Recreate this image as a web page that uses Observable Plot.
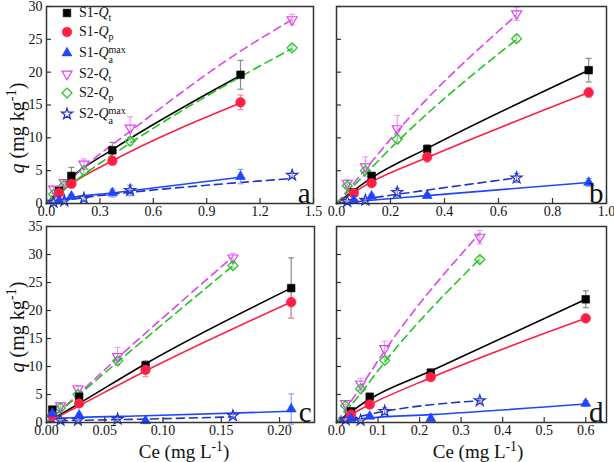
<!DOCTYPE html>
<html><head><meta charset="utf-8">
<script src="https://cdn.jsdelivr.net/npm/d3@7"></script>
<script src="https://cdn.jsdelivr.net/npm/@observablehq/plot@0.6"></script>
<style>
body{margin:0;background:#fff;}
#wrap{position:relative;width:614px;height:462px;overflow:hidden;font-family:'Liberation Serif','Times New Roman',serif;color:#111;background:#fff;}
.ov{position:absolute;white-space:nowrap;}
.ov sub,.ov sup{font-size:0.72em;line-height:0;}
</style></head><body><div id="wrap"></div>
<script>
// ---------- Panel a ----------
const a_x1 = [0.07, 0.14, 0.37, 1.09];
const a_qt1 = [1.9, 4.2, 8.1, 19.6];   const a_qt1E = [0.4, 1.3, 1.2, 2.2];
const a_qp1 = [1.6, 3.0, 6.5, 15.4];   const a_qp1E = [0.3, 0.5, 0.6, 1.1];
const a_qa1 = [0.4, 1.1, 1.6, 4.1];    const a_qa1E = [0.2, 0.3, 0.6, 1.1];
const a_x2 = [0.04, 0.10, 0.21, 0.47, 1.38];
const a_qt2 = [2.2, 3.2, 6.0, 11.5, 28.0]; const a_qt2E = [0.3, 0.4, 0.8, 1.7, 0.8];
const a_qp2 = [1.4, 2.8, 5.0, 9.5, 23.7];  const a_qp2E = [0.2, 0.3, 0.5, 0.6, 0.4];
const a_qa2 = [0.2, 0.4, 0.8, 2.0, 4.3];   const a_qa2E = [0.1, 0.1, 0.3, 0.8, 0.3];
const a_fit1X = [0, 0.14, 0.37, 1.09];
const a_fitT1 = [0, 4.0, 8.2, 19.5];
const a_fitP1 = [0, 3.0, 6.5, 15.3];
const a_fitA1 = [0, 0.9, 1.6, 4.0];
const a_fit2X = [0, 0.21, 0.47, 1.09, 1.38];
const a_fitT2 = [0, 5.5, 11.0, 23.2, 28.0];
const a_fitP2 = [0, 4.4, 9.2, 19.3, 23.6];
const a_fitA2 = [0, 0.9, 1.7, 3.2, 3.8];

// ---------- Panel b ----------
const b_x1 = [0.064, 0.13, 0.336, 0.934];
const b_qt1 = [1.7, 4.2, 8.3, 20.3];   const b_qt1E = [0.3, 0.5, 0.6, 1.8];
const b_qp1 = [1.6, 3.1, 7.1, 16.9];   const b_qp1E = [0.3, 0.4, 0.8, 0.7];
const b_qa1 = [0.5, 1.1, 1.2, 3.2];    const b_qa1E = [0.2, 0.3, 0.3, 0.6];
const b_x2 = [0.04, 0.107, 0.225, 0.667];
const b_qt2 = [3.1, 5.6, 11.4, 28.9];  const b_qt2E = [0.5, 1.5, 2.0, 1.0];
const b_qp2 = [2.7, 5.0, 9.8, 25.1];   const b_qp2E = [0.3, 0.5, 0.6, 0.5];
const b_qa2 = [0.3, 0.5, 1.7, 3.9];    const b_qa2E = [0.1, 0.2, 0.6, 0.7];
const b_fit1X = [0, 0.13, 0.336, 0.934];
const b_fitT1 = [0, 3.9, 8.4, 20.3];
const b_fitP1 = [0, 3.3, 7.0, 16.9];
const b_fitA1 = [0, 0.5, 1.2, 3.2];
const b_fit2X = [0, 0.107, 0.225, 0.667];
const b_fitT2 = [0, 5.2, 11.0, 28.7];
const b_fitP2 = [0, 4.5, 9.4, 25.0];
const b_fitA2 = [0, 0.7, 1.4, 3.9];

// ---------- Panel c ----------
const c_x1 = [0.005, 0.028, 0.085, 0.21];
const c_qt1 = [2.3, 4.6, 10.2, 24.0];  const c_qt1E = [0.3, 0.5, 0.8, 5.4];
const c_qp1 = [1.2, 3.4, 9.4, 21.5];   const c_qp1E = [0.2, 0.5, 1.2, 2.9];
const c_qa1 = [1.6, 1.3, 0.3, 2.4];    const c_qa1E = [0.3, 0.3, 0.1, 2.7];
const c_x2 = [0.012, 0.027, 0.061, 0.16];
const c_qt2 = [3.0, 6.0, 11.8, 29.4];  const c_qt2E = [0.4, 0.6, 1.6, 0.8];
const c_qp2 = [2.6, 5.0, 11.0, 28.0];  const c_qp2E = [0.2, 0.4, 0.6, 0.5];
const c_qa2 = [0.4, 0.4, 0.6, 1.2];    const c_qa2E = [0.1, 0.1, 0.2, 0.3];
const c_fit1X = [0, 0.005, 0.028, 0.085, 0.21];
const c_fitT1 = [0, 0.6, 3.4, 10.5, 24.0];
const c_fitP1 = [0, 0.5, 3.0, 9.2, 21.5];
const c_fitA1 = [0, 0.7, 0.9, 1.2, 2.0];
const c_fit2X = [0, 0.012, 0.061, 0.16];
const c_fitT2 = [0, 2.2, 11.5, 29.6];
const c_fitP2 = [0, 2.1, 10.8, 28.0];
const c_fitA2 = [0, 0.3, 0.5, 1.0];

// ---------- Panel d ----------
const d_x1 = [0.035, 0.08, 0.227, 0.6];
const d_qt1 = [2.0, 4.6, 8.9, 22.0];   const d_qt1E = [0.3, 0.5, 0.6, 1.5];
const d_qp1 = [1.4, 3.2, 8.1, 18.6];   const d_qp1E = [0.2, 0.3, 0.5, 0.5];
const d_qa1 = [0.7, 1.1, 0.7, 3.4];    const d_qa1E = [0.1, 0.2, 0.1, 0.5];
const d_x2 = [0.022, 0.058, 0.116, 0.345];
const d_qt2 = [3.4, 6.9, 13.2, 33.1];  const d_qt2E = [0.5, 1.0, 1.3, 1.2];
const d_qp2 = [3.0, 6.0, 11.1, 29.1];  const d_qp2E = [0.2, 0.4, 0.5, 0.5];
const d_qa2 = [0.5, 0.4, 2.0, 3.9];    const d_qa2E = [0.1, 0.1, 0.6, 0.4];
const d_fit1X = [0, 0.08, 0.227, 0.6];
const d_fitT1 = [0, 4.2, 9.2, 22.0];
const d_fitP1 = [0, 3.2, 8.0, 18.6];
const d_fitA1 = [0, 0.8, 1.4, 3.3];
const d_fit2X = [0, 0.058, 0.116, 0.345];
const d_fitT2 = [0, 6.3, 12.8, 33.8];
const d_fitP2 = [0, 5.2, 10.8, 29.2];
const d_fitA2 = [0, 1.1, 2.0, 3.9];

// ---------- axes ----------
const a_xTicks = [0, 0.3, 0.6, 0.9, 1.2, 1.5];
const b_xTicks = [0, 0.2, 0.4, 0.6, 0.8, 1.0];
const c_xTicks = [0, 0.05, 0.10, 0.15, 0.20];
const d_xTicks = [0, 0.1, 0.2, 0.3, 0.4, 0.5, 0.6];
const top_yTicks = [0, 5, 10, 15, 20, 25, 30];
const bot_yTicks = [0, 5, 10, 15, 20, 25, 30, 35];
const seriesNames = ["S1-Qt", "S1-Qp", "S1-Qamax", "S2-Qt", "S2-Qp", "S2-Qamax"];

const FONT = "'Liberation Serif','Times New Roman',serif";

// custom symbols
const triDown = {draw(ctx, size) {
  const s = Math.sqrt(size) * 1.25, h = s * 0.866;
  ctx.moveTo(0, 2 * h / 3); ctx.lineTo(-s / 2, -h / 3); ctx.lineTo(s / 2, -h / 3); ctx.closePath();
}};
const triUp = {draw(ctx, size) {
  const s = Math.sqrt(size) * 1.25, h = s * 0.866;
  ctx.moveTo(0, -2 * h / 3); ctx.lineTo(-s / 2, h / 3); ctx.lineTo(s / 2, h / 3); ctx.closePath();
}};
const cap = {draw(ctx, size) {
  const w = Math.sqrt(size); ctx.moveTo(-w / 2, 0); ctx.lineTo(w / 2, 0);
}};

const styles = [
  {color: "#000000", err: "#8a8a8a", symbol: "square", fill: true, dash: false, r: 4.3},
  {color: "#ff1f44", err: "#f58fa0", symbol: "circle", fill: true, dash: false, r: 4.8},
  {color: "#1f45ff", err: "#8ea2ff", symbol: triUp, fill: true, dash: false, r: 4.5},
  {color: "#dd44ee", err: "#ee9cf5", symbol: triDown, fill: false, dash: true, r: 4.5},
  {color: "#22c322", err: "#8fdc8f", symbol: "diamond2", fill: false, dash: true, r: 4.5},
  {color: "#2233c8", err: "#8b94e0", symbol: "star", fill: false, dash: true, r: 3.5}
];

function rows(xs, ys, es) { return xs.map((x, i) => ({x, y: ys[i], e: es ? es[i] : 0})); }

function panel(cfg) {
  const series = [
    {pts: rows(cfg.x1, cfg.t1, cfg.t1E), fit: rows(cfg.f1X, cfg.fT1)},
    {pts: rows(cfg.x1, cfg.p1, cfg.p1E), fit: rows(cfg.f1X, cfg.fP1)},
    {pts: rows(cfg.x1, cfg.a1, cfg.a1E), fit: rows(cfg.f1X, cfg.fA1)},
    {pts: rows(cfg.x2, cfg.t2, cfg.t2E), fit: rows(cfg.f2X, cfg.fT2)},
    {pts: rows(cfg.x2, cfg.p2, cfg.p2E), fit: rows(cfg.f2X, cfg.fP2)},
    {pts: rows(cfg.x2, cfg.a2, cfg.a2E), fit: rows(cfg.f2X, cfg.fA2)}
  ].map((s, i) => ({...s, ...styles[i], name: seriesNames[i]}));
  const fw = cfg.width - cfg.ml - cfg.mr, fh = cfg.height - cfg.mt - cfg.mb;
  const marks = [];
  for (const s of series) {
    marks.push(Plot.line(s.fit, {x: "x", y: "y", stroke: s.color, strokeWidth: 1.6,
      strokeDasharray: s.dash ? "8,5" : null, curve: "monotone-x"}));
  }
  for (const s of series) {
    const ep = s.pts.filter(d => d.e > 0);
    marks.push(Plot.ruleX(ep, {x: "x", y1: d => d.y - d.e, y2: d => d.y + d.e, stroke: s.err, strokeWidth: 1.2}));
    marks.push(Plot.dot(ep, {x: "x", y: d => d.y + d.e, symbol: cap, r: 3.3, stroke: s.err, strokeWidth: 1.2}));
    marks.push(Plot.dot(ep, {x: "x", y: d => d.y - d.e, symbol: cap, r: 3.3, stroke: s.err, strokeWidth: 1.2}));
  }
  for (const s of [series[3], series[4], series[5], series[0], series[1], series[2]]) {
    marks.push(Plot.dot(s.pts, {x: "x", y: "y", symbol: s.symbol, r: s.r,
      fill: s.fill ? s.color : "none", stroke: s.color, strokeWidth: s.fill ? 0.6 : 1.2}));
  }
  marks.push(Plot.tickX(cfg.xTicks, {x: d => d, insetTop: fh - 5, stroke: "#333", strokeWidth: 1.2}));
  marks.push(Plot.tickY(cfg.yTicks, {y: d => d, insetRight: fw - 5, stroke: "#333", strokeWidth: 1.2}));
  marks.push(Plot.axisX(cfg.xTicks, {tickSize: 0, tickPadding: 3, tickFormat: cfg.fmt, fill: "#111", fontSize: 14}));
  if (cfg.showY) marks.push(Plot.axisY(cfg.yTicks, {tickSize: 0, tickPadding: 4, fill: "#111", fontSize: 14}));
  marks.push(Plot.frame({stroke: "#333", strokeWidth: 1.5}));
  marks.push(Plot.text([cfg.letter], {frameAnchor: "bottom-right", text: d => d, fontSize: 29,
    textAnchor: "end", lineAnchor: "bottom", dx: -3, dy: -1, fill: "#111"}));
  const svg = Plot.plot({
    width: cfg.width, height: cfg.height,
    marginLeft: cfg.ml, marginRight: cfg.mr, marginTop: cfg.mt, marginBottom: cfg.mb,
    x: {domain: cfg.xDomain, label: null, axis: null},
    y: {domain: cfg.yDomain, label: null, axis: null},
    style: {position: "absolute", left: cfg.left + "px", top: cfg.top + "px", background: "transparent",
      overflow: "visible", fontFamily: FONT, fontSize: "14px", color: "#111"},
    marks
  });
  document.getElementById("wrap").appendChild(svg);
}

panel({left: 0, top: 0, width: 320, height: 225, ml: 46, mr: 7, mt: 6, mb: 22,
  xDomain: [0, 1.5], yDomain: [0, 30], xTicks: a_xTicks, yTicks: top_yTicks, fmt: d => d.toFixed(1), showY: true, letter: "a",
  x1: a_x1, t1: a_qt1, t1E: a_qt1E, p1: a_qp1, p1E: a_qp1E, a1: a_qa1, a1E: a_qa1E,
  x2: a_x2, t2: a_qt2, t2E: a_qt2E, p2: a_qp2, p2E: a_qp2E, a2: a_qa2, a2E: a_qa2E,
  f1X: a_fit1X, fT1: a_fitT1, fP1: a_fitP1, fA1: a_fitA1, f2X: a_fit2X, fT2: a_fitT2, fP2: a_fitP2, fA2: a_fitA2});
panel({left: 300, top: 0, width: 314, height: 225, ml: 36, mr: 8, mt: 6, mb: 22,
  xDomain: [0, 1.0], yDomain: [0, 30], xTicks: b_xTicks, yTicks: top_yTicks, fmt: d => d.toFixed(1), showY: false, letter: "b",
  x1: b_x1, t1: b_qt1, t1E: b_qt1E, p1: b_qp1, p1E: b_qp1E, a1: b_qa1, a1E: b_qa1E,
  x2: b_x2, t2: b_qt2, t2E: b_qt2E, p2: b_qp2, p2E: b_qp2E, a2: b_qa2, a2E: b_qa2E,
  f1X: b_fit1X, fT1: b_fitT1, fP1: b_fitP1, fA1: b_fitA1, f2X: b_fit2X, fT2: b_fitT2, fP2: b_fitP2, fA2: b_fitA2});
panel({left: 0, top: 212, width: 320, height: 250, ml: 46, mr: 6, mt: 14, mb: 40,
  xDomain: [0, 0.23], yDomain: [0, 35], xTicks: c_xTicks, yTicks: bot_yTicks, fmt: d => d.toFixed(2), showY: true, letter: "c",
  x1: c_x1, t1: c_qt1, t1E: c_qt1E, p1: c_qp1, p1E: c_qp1E, a1: c_qa1, a1E: c_qa1E,
  x2: c_x2, t2: c_qt2, t2E: c_qt2E, p2: c_qp2, p2E: c_qp2E, a2: c_qa2, a2E: c_qa2E,
  f1X: c_fit1X, fT1: c_fitT1, fP1: c_fitP1, fA1: c_fitA1, f2X: c_fit2X, fT2: c_fitT2, fP2: c_fitP2, fA2: c_fitA2});
panel({left: 300, top: 212, width: 314, height: 250, ml: 36, mr: 8, mt: 14, mb: 40,
  xDomain: [0, 0.65], yDomain: [0, 35], xTicks: d_xTicks, yTicks: bot_yTicks, fmt: d => d.toFixed(1), showY: false, letter: "d",
  x1: d_x1, t1: d_qt1, t1E: d_qt1E, p1: d_qp1, p1E: d_qp1E, a1: d_qa1, a1E: d_qa1E,
  x2: d_x2, t2: d_qt2, t2E: d_qt2E, p2: d_qp2, p2E: d_qp2E, a2: d_qa2, a2E: d_qa2E,
  f1X: d_fit1X, fT1: d_fitT1, fP1: d_fitP1, fA1: d_fitA1, f2X: d_fit2X, fT2: d_fitT2, fP2: d_fitP2, fA2: d_fitA2});

// ---------- overlay text: legend and axis titles ----------
const wrap = document.getElementById("wrap");
function addDiv(html, style) {
  const d = document.createElement("div"); d.className = "ov"; d.innerHTML = html;
  Object.assign(d.style, style); wrap.appendChild(d); return d;
}
const legendY = [13, 32, 53, 74, 93, 114];
const stack = "<span style=\"display:inline-block;vertical-align:-6px;font-size:10px;line-height:10px\"><span style=\"display:block;height:10px\">max</span><span style=\"display:block;height:10px\">a</span></span>";
const legendHTML = [
  "S1-<i>Q</i><sub>t</sub>",
  "S1-<i>Q</i><sub>p</sub>",
  "S1-<i>Q</i>" + stack,
  "S2-<i>Q</i><sub>t</sub>",
  "S2-<i>Q</i><sub>p</sub>",
  "S2-<i>Q</i>" + stack
];
styles.forEach((s, i) => {
  const sym = typeof s.symbol === "string"
    ? {square: d3.symbolSquare, circle: d3.symbolCircle, diamond2: d3.symbolDiamond2, star: d3.symbolStar}[s.symbol]
    : s.symbol;
  const path = d3.symbol(sym, Math.PI * s.r * s.r)();
  const icon = `<svg width="14" height="18" style="vertical-align:top;overflow:visible"><path transform="translate(7,9)" d="${path}" fill="${s.fill ? s.color : "none"}" stroke="${s.color}" stroke-width="${s.fill ? 0.6 : 1.2}"/></svg>`;
  addDiv(icon + `<span style="margin-left:5px">${legendHTML[i]}</span>`,
    {left: "60px", top: (legendY[i] - 9) + "px", height: "18px", lineHeight: "18px", fontSize: "14px"});
});
[128, 327].forEach(cy => {
  addDiv("<i>q</i> (mg kg<sup>-1</sup>)", {left: "17px", top: cy + "px", fontSize: "20px", lineHeight: "20px",
    transform: "translate(-50%,-50%) rotate(-90deg)"});
});
[184, 478].forEach(cx => {
  addDiv("Ce (mg L<sup>-1</sup>)", {left: cx + "px", top: "452px", fontSize: "19px", lineHeight: "20px",
    transform: "translate(-50%,-50%)"});
});
</script></body></html>
